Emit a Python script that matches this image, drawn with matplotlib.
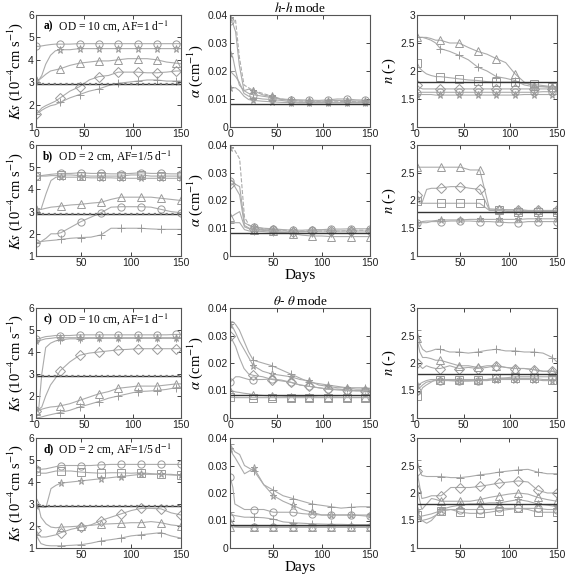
import matplotlib
matplotlib.use("Agg")
import matplotlib.pyplot as plt

plt.rcParams['mathtext.fontset'] = 'stix'
plt.rcParams['font.family'] = ['Liberation Sans', 'DejaVu Sans']

# ---------------- data ----------------
days_a = [0, 3, 6, 10, 15, 20, 25, 35, 45, 55, 65, 75, 85, 95, 105, 115, 125, 135, 145, 150]
days_b = [5, 8, 10, 15, 20, 25, 30, 40, 50, 60, 70, 80, 90, 100, 110, 120, 130, 140, 150]

# row 1 : h-h mode, OD = 10 cm
ks1_o = [4.6,4.6,4.62,4.65,4.68,4.7,4.7,4.7,4.72,4.72,4.72,4.72,4.72,4.72,4.72,4.72,4.72,4.72,4.72,4.72]
ks1_s = [3.1,3.1,3.3,3.8,4.2,4.4,4.45,4.45,4.5,4.5,4.5,4.5,4.5,4.5,4.5,4.5,4.5,4.5,4.5,4.5]
ks1_t = [3.1,3.1,3.2,3.35,3.5,3.55,3.6,3.75,3.85,3.9,3.95,3.95,4.0,4.05,4.05,4.05,4.0,3.9,3.85,3.82]
ks1_d = [1.6,1.7,1.85,1.95,2.05,2.15,2.3,2.6,2.8,3.1,3.25,3.3,3.45,3.45,3.45,3.42,3.42,3.45,3.5,3.5]
ks1_p = [1.6,1.65,1.75,1.85,1.95,2.0,2.1,2.3,2.45,2.6,2.7,2.85,2.95,3.0,3.05,3.1,3.1,3.05,3.05,3.05]

al1_s = [0.039,0.039,0.038,0.025,0.015,0.014,0.013,0.012,0.011,0.01,0.0095,0.0093,0.0092,0.009,0.009,0.009,0.0092,0.009,0.009,0.009]
al1_o = [0.038,0.037,0.034,0.022,0.013,0.012,0.0115,0.011,0.0105,0.01,0.0098,0.0097,0.0096,0.0095,0.0097,0.01,0.01,0.0097,0.0096,0.0096]
al1_s2 = [0.026,0.025,0.02,0.015,0.013,0.0135,0.013,0.0115,0.0108,0.0098,0.0095,0.0093,0.0093,0.0092,0.0093,0.0095,0.0094,0.0093,0.0093,0.0093]
al1_p = [0.02,0.019,0.018,0.016,0.012,0.011,0.0105,0.01,0.0098,0.0095,0.009,0.0088,0.0088,0.0088,0.0088,0.0088,0.0088,0.0088,0.0088,0.0088]
al1_s3 = [0.014,0.014,0.014,0.013,0.011,0.0098,0.0095,0.0092,0.009,0.0088,0.0087,0.0086,0.0086,0.0086,0.0086,0.0086,0.0086,0.0086,0.0086,0.0086]

n1_t = [2.6,2.6,2.6,2.6,2.58,2.55,2.55,2.5,2.5,2.42,2.35,2.3,2.22,2.15,1.95,1.8,1.73,1.72,1.72,1.72]
n1_p = [2.6,2.6,2.6,2.58,2.55,2.5,2.4,2.35,2.28,2.2,2.07,2.0,1.9,1.87,1.83,1.75,1.72,1.72,1.7,1.7]
n1_q = [2.15,2.05,2.0,1.95,1.92,1.9,1.9,1.88,1.86,1.84,1.83,1.81,1.8,1.8,1.8,1.78,1.76,1.74,1.72,1.72]
n1_o = [1.6,1.62,1.62,1.62,1.62,1.62,1.62,1.62,1.62,1.62,1.62,1.62,1.62,1.62,1.62,1.62,1.62,1.63,1.63,1.63]
n1_s = [1.58,1.58,1.58,1.58,1.58,1.57,1.57,1.57,1.57,1.57,1.57,1.57,1.57,1.57,1.57,1.58,1.58,1.58,1.58,1.58]
n1_d = [1.75,1.7,1.68,1.68,1.68,1.68,1.68,1.68,1.68,1.68,1.68,1.68,1.68,1.68,1.68,1.68,1.68,1.68,1.68,1.68]

# row 2 : h-h mode, OD = 2 cm
ks2_o = [4.6,4.6,4.62,4.65,4.68,4.7,4.72,4.72,4.75,4.72,4.72,4.7,4.7,4.72,4.75,4.72,4.72,4.7,4.7]
ks2_q = [4.6,4.6,4.6,4.6,4.62,4.62,4.65,4.65,4.62,4.6,4.6,4.6,4.6,4.65,4.65,4.6,4.6,4.6,4.6]
ks2_s = [3.1,3.1,3.1,3.8,4.4,4.55,4.55,4.55,4.55,4.52,4.52,4.52,4.5,4.5,4.5,4.5,4.5,4.5,4.5]
ks2_t = [3.1,3.1,3.1,3.15,3.2,3.22,3.25,3.3,3.33,3.38,3.42,3.55,3.65,3.65,3.65,3.65,3.6,3.55,3.5]
ks2_d = [1.6,1.62,1.65,1.8,2.0,2.0,2.05,2.3,2.55,2.75,2.95,3.2,3.22,3.22,3.22,3.2,3.1,3.0,2.95]
ks2_p = [1.6,1.62,1.65,1.68,1.7,1.72,1.75,1.8,1.83,1.85,1.95,2.25,2.25,2.25,2.25,2.22,2.2,2.2,2.2]

al2_s = [0.039,0.039,0.038,0.035,0.014,0.011,0.0105,0.0098,0.0095,0.0093,0.0092,0.009,0.009,0.009,0.009,0.009,0.0092,0.0093,0.0093]
al2_o = [0.027,0.027,0.026,0.025,0.012,0.011,0.0105,0.01,0.0098,0.0095,0.0093,0.0093,0.0095,0.0095,0.0097,0.0097,0.0098,0.0098,0.0098]
al2_d = [0.026,0.026,0.025,0.022,0.011,0.01,0.0098,0.0095,0.0092,0.009,0.0088,0.0088,0.009,0.009,0.009,0.009,0.009,0.009,0.009]
al2_t = [0.014,0.0145,0.015,0.016,0.0105,0.0098,0.0095,0.0092,0.009,0.0085,0.008,0.0075,0.0072,0.0072,0.007,0.007,0.007,0.007,0.007]
al2_p = [0.012,0.012,0.012,0.012,0.0095,0.009,0.009,0.0088,0.0085,0.0085,0.0082,0.0082,0.0082,0.0082,0.0082,0.0082,0.0082,0.0082,0.0082]

n2_t = [2.6,2.6,2.6,2.6,2.6,2.6,2.6,2.6,2.6,2.55,2.55,1.85,1.84,1.83,1.83,1.82,1.82,1.82,1.82]
n2_d = [2.1,2.0,1.95,2.2,2.22,2.22,2.23,2.25,2.25,2.22,2.2,1.83,1.83,1.83,1.83,1.82,1.82,1.82,1.82]
n2_q = [2.0,1.95,1.95,1.95,1.95,1.95,1.95,1.95,1.95,1.95,1.95,1.82,1.82,1.8,1.8,1.8,1.8,1.8,1.8]
n2_o = [1.6,1.6,1.6,1.6,1.62,1.62,1.62,1.63,1.63,1.63,1.62,1.62,1.61,1.6,1.6,1.62,1.62,1.62,1.62]
n2_s = [1.6,1.6,1.62,1.63,1.63,1.64,1.65,1.65,1.65,1.66,1.66,1.66,1.66,1.66,1.66,1.67,1.67,1.67,1.67]

# row 3 : theta-theta mode, OD = 10 cm
ks3_o = [4.6,4.6,4.65,4.7,4.72,4.75,4.75,4.75,4.78,4.78,4.78,4.78,4.78,4.78,4.78,4.78,4.78,4.78,4.8,4.8]
ks3_s = [4.5,4.5,4.55,4.6,4.62,4.65,4.65,4.65,4.65,4.65,4.65,4.65,4.65,4.65,4.65,4.65,4.65,4.65,4.65,4.65]
ks3_p = [1.2,1.5,3.0,4.2,4.4,4.5,4.55,4.6,4.6,4.62,4.62,4.62,4.62,4.62,4.62,4.62,4.62,4.62,4.62,4.62]
ks3_d = [1.3,1.4,1.5,2.0,2.5,2.8,3.15,3.55,3.85,3.95,4.0,4.05,4.1,4.12,4.15,4.15,4.15,4.15,4.15,4.15]
ks3_t = [1.3,1.35,1.4,1.45,1.5,1.52,1.55,1.65,1.8,1.95,2.1,2.2,2.35,2.4,2.45,2.45,2.45,2.5,2.55,2.55]
ks3_p2 = [1.0,1.02,1.05,1.1,1.15,1.2,1.25,1.35,1.5,1.62,1.75,1.9,2.0,2.1,2.2,2.22,2.25,2.3,2.38,2.4]

al3_p = [0.035,0.035,0.034,0.032,0.028,0.024,0.021,0.02,0.019,0.0175,0.016,0.0145,0.013,0.0125,0.012,0.0115,0.011,0.011,0.011,0.0108]
al3_s = [0.034,0.033,0.031,0.028,0.025,0.022,0.019,0.017,0.016,0.0155,0.015,0.014,0.0135,0.012,0.0115,0.011,0.011,0.0105,0.0105,0.0105]
al3_d = [0.03,0.028,0.026,0.022,0.018,0.016,0.0155,0.015,0.014,0.0135,0.013,0.012,0.0115,0.011,0.0105,0.0105,0.0102,0.01,0.01,0.01]
al3_o = [0.013,0.014,0.015,0.015,0.0145,0.014,0.014,0.014,0.0142,0.0138,0.013,0.012,0.0115,0.011,0.0105,0.0102,0.01,0.0098,0.0098,0.0098]
al3_t = [0.01,0.0098,0.0095,0.0093,0.009,0.0088,0.0085,0.0082,0.008,0.008,0.0078,0.0078,0.0078,0.0076,0.0076,0.0076,0.0075,0.0075,0.0075,0.0075]
al3_q = [0.0075,0.0075,0.0074,0.0074,0.0074,0.0074,0.0074,0.0074,0.0074,0.0074,0.0074,0.0074,0.0074,0.0074,0.0074,0.0074,0.0074,0.0074,0.0074,0.0074]

n3_p = [2.6,2.35,2.25,2.2,2.22,2.25,2.25,2.2,2.2,2.18,2.2,2.23,2.25,2.22,2.22,2.2,2.2,2.18,2.1,2.02]
n3_t = [2.45,2.2,2.1,2.1,2.08,2.05,2.05,2.0,1.95,1.95,1.92,1.95,1.95,1.92,1.9,1.9,1.88,1.85,1.85,1.85]
n3_d = [2.0,1.95,1.9,1.95,1.92,1.9,1.9,1.95,1.9,1.92,1.9,1.92,1.95,1.92,1.9,1.9,1.88,1.85,1.85,1.82]
n3_o = [1.5,1.55,1.6,1.65,1.67,1.68,1.68,1.68,1.67,1.67,1.68,1.7,1.72,1.73,1.75,1.75,1.75,1.75,1.75,1.75]
n3_q = [1.4,1.45,1.55,1.6,1.65,1.7,1.7,1.7,1.7,1.7,1.7,1.7,1.72,1.72,1.72,1.72,1.72,1.7,1.7,1.7]
n3_s = [1.6,1.62,1.65,1.68,1.7,1.7,1.7,1.68,1.68,1.68,1.68,1.68,1.7,1.7,1.7,1.7,1.7,1.68,1.68,1.68]

# row 4 : theta-theta mode, OD = 2 cm
ks4_o = [4.6,4.6,4.58,4.6,4.65,4.7,4.75,4.75,4.75,4.75,4.78,4.8,4.8,4.8,4.8,4.8,4.8,4.8,4.8]
ks4_q = [4.5,4.45,4.4,4.4,4.45,4.5,4.5,4.5,4.45,4.42,4.4,4.42,4.42,4.4,4.42,4.38,4.35,4.32,4.3]
ks4_s = [2.9,2.88,2.87,2.85,3.7,3.85,3.95,4.0,4.05,4.1,4.15,4.2,4.25,4.3,4.35,4.35,4.35,4.35,4.3]
ks4_d = [1.8,1.6,1.5,1.5,1.55,1.6,1.7,1.85,1.95,2.05,2.25,2.4,2.55,2.7,2.8,2.8,2.78,2.6,2.5]
ks4_t = [3.1,2.8,2.4,2.1,1.95,1.92,1.95,1.97,2.0,2.03,2.08,2.1,2.12,2.15,2.15,2.2,2.15,2.05,2.0]
ks4_p = [1.6,1.35,1.2,1.12,1.1,1.1,1.1,1.12,1.15,1.22,1.32,1.38,1.45,1.55,1.6,1.65,1.7,1.55,1.45]

al4_p = [0.038,0.036,0.035,0.034,0.03,0.029,0.028,0.023,0.021,0.019,0.018,0.017,0.016,0.0155,0.015,0.0145,0.0148,0.015,0.015]
al4_s = [0.036,0.034,0.033,0.03,0.027,0.028,0.029,0.023,0.019,0.017,0.0155,0.014,0.013,0.012,0.012,0.012,0.012,0.012,0.012]
al4_o = [0.026,0.022,0.016,0.015,0.014,0.014,0.014,0.014,0.013,0.013,0.013,0.0125,0.0122,0.012,0.012,0.012,0.012,0.0118,0.0115]
al4_p2 = [0.013,0.012,0.0118,0.0115,0.0112,0.0112,0.0112,0.011,0.0105,0.0095,0.0092,0.009,0.0088,0.0087,0.0086,0.0086,0.0085,0.0085,0.0085]
al4_o2 = [0.011,0.009,0.0078,0.0077,0.0077,0.0077,0.0077,0.0077,0.0077,0.0077,0.0077,0.0077,0.0077,0.0077,0.0077,0.0077,0.0077,0.0077,0.0077]
al4_t = [0.0078,0.0076,0.0076,0.0075,0.0075,0.0075,0.0075,0.0075,0.0075,0.0075,0.0075,0.0075,0.0075,0.0075,0.0075,0.0075,0.0075,0.0075,0.0075]

n4_p = [2.6,2.4,2.32,2.3,2.3,2.3,2.3,2.28,2.28,2.3,2.33,2.35,2.38,2.4,2.42,2.43,2.38,2.35,2.35]
n4_d = [2.4,2.1,1.9,1.92,1.95,1.95,1.95,2.1,2.1,2.1,2.12,2.15,2.18,2.2,2.22,2.2,2.05,2.0,2.0]
n4_t = [2.1,1.85,1.7,1.8,1.9,1.88,1.85,1.85,1.85,1.85,1.88,1.92,1.95,1.98,2.0,1.98,1.92,1.88,1.85]
n4_s = [1.7,1.55,1.5,1.45,1.5,1.6,1.7,1.75,1.78,1.8,1.8,1.82,1.82,1.85,1.88,1.85,1.8,1.78,1.75]
n4_q = [1.6,1.52,1.5,1.52,1.55,1.6,1.68,1.7,1.65,1.63,1.63,1.65,1.68,1.7,1.72,1.7,1.65,1.65,1.65]
n4_o = [1.55,1.55,1.58,1.6,1.62,1.65,1.68,1.7,1.7,1.7,1.7,1.7,1.72,1.72,1.72,1.72,1.72,1.7,1.7]

ref_ks, ref_al, ref_n = 2.9, 0.0083, 1.8

panel_text = ["a) OD = 10 cm, AF=1 d$^{-1}$", "b) OD = 2 cm, AF=1/5 d$^{-1}$",
              "c) OD = 10 cm, AF=1 d$^{-1}$", "d) OD = 2 cm, AF=1/5 d$^{-1}$"]

# ---------------- layout ----------------
W, H = 566, 579
fig = plt.figure(figsize=(W / 100, H / 100), dpi=100)
cols = [(36, 181), (230, 370), (417, 557)]
rows = [(15, 127), (145, 256), (308, 418), (438, 548)]

LC = '#ababab'
MC = '#9a9a9a'
SERIF = ['Liberation Serif', 'DejaVu Serif']


def make_ax(r, c):
    x0, x1 = cols[c]
    y0, y1 = rows[r]
    return fig.add_axes([x0 / W, 1 - y1 / H, (x1 - x0) / W, (y1 - y0) / H])


def series(ax, x, y, m, ls='-', every=None):
    if every is None:
        every = [0] + list(range(6, len(x), 2))
    ax.plot(x, y, color=LC, lw=0.8, ls=ls, marker=m, markevery=every,
            markersize=5.2, markerfacecolor='none', markeredgecolor=MC, markeredgewidth=0.7)


row_data = [
    (days_a, [(ks1_o, 'o'), (ks1_s, '*'), (ks1_t, '^'), (ks1_d, 'D'), (ks1_p, '+')],
     [(al1_s, '*', '--'), (al1_o, 'o', '-'), (al1_s2, '*', '-'), (al1_p, '+', '-'), (al1_s3, '*', '-')],
     [(n1_t, '^'), (n1_p, '+'), (n1_q, 's'), (n1_o, 'o'), (n1_s, '*'), (n1_d, 'D')]),
    (days_b, [(ks2_o, 'o'), (ks2_q, 's'), (ks2_s, '*'), (ks2_t, '^'), (ks2_d, 'o'), (ks2_p, '+')],
     [(al2_s, '*', '--'), (al2_o, 'o', '-'), (al2_d, 'D', '-'), (al2_t, '^', '-'), (al2_p, '+', '-')],
     [(n2_t, '^'), (n2_d, 'D'), (n2_q, 's'), (n2_o, 'o'), (n2_s, '*')]),
    (days_a, [(ks3_o, 'o'), (ks3_s, '*'), (ks3_p, '+'), (ks3_d, 'D'), (ks3_t, '^'), (ks3_p2, '+')],
     [(al3_p, '+', '-'), (al3_s, '*', '-'), (al3_d, 'D', '-'), (al3_o, 'o', '-'), (al3_t, '^', '-'), (al3_q, 's', '-')],
     [(n3_p, '+'), (n3_t, '^'), (n3_d, 'D'), (n3_o, 'o'), (n3_q, 's'), (n3_s, '*')]),
    (days_b, [(ks4_o, 'o'), (ks4_q, 's'), (ks4_s, '*'), (ks4_d, 'D'), (ks4_t, '^'), (ks4_p, '+')],
     [(al4_p, '+', '-'), (al4_s, '*', '-'), (al4_o, 'o', '-'), (al4_p2, '+', '-'), (al4_o2, 'o', '-'), (al4_t, '^', '-')],
     [(n4_p, '+'), (n4_d, 'D'), (n4_t, '^'), (n4_s, '*'), (n4_q, 's'), (n4_o, 'o')]),
]


def style(ax, xlim, ylim, yticks, ylabels):
    ax.set_xlim(*xlim)
    ax.set_ylim(*ylim)
    ax.set_xticks([t for t in [0, 50, 100, 150] if t >= xlim[0]])
    ax.set_yticks(yticks)
    ax.set_yticklabels(ylabels)
    ax.tick_params(direction='in', length=3, width=0.6, labelsize=7.5, pad=1.5,
                   top=True, right=True, colors='#222222')
    for s in ax.spines.values():
        s.set_linewidth(0.8)
        s.set_color('#555555')


for r, (days, ks, al, nn) in enumerate(row_data):
    xlim = (0, 150) if days[0] == 0 else (5, 150)
    # Ks
    ax = make_ax(r, 0)
    for y, m in ks:
        series(ax, days, y, m)
    ax.axhline(ref_ks, color='#333333', lw=1.0)
    ax.axhline(ref_ks, color='#777777', lw=1.6, ls=':')
    style(ax, xlim, (1, 6), [1, 2, 3, 4, 5, 6], ['1', '2', '3', '4', '5', '6'])
    ax.set_ylabel(r'$Ks$ (10$^{-4}$cm s$^{-1}$)', family=SERIF, fontsize=10.5, labelpad=2)
    lab = panel_text[r]
    ax.text(0.05, 0.9, lab[:2], transform=ax.transAxes, family=SERIF, fontsize=8.3,
            fontweight='bold', va='center', ha='left')
    ax.text(0.14, 0.9, lab[2:], transform=ax.transAxes, family=SERIF, fontsize=8.3,
            va='center', ha='left')
    # alpha
    ax = make_ax(r, 1)
    for y, m, ls in al:
        series(ax, days, y, m, ls=ls)
    ax.axhline(ref_al, color='#333333', lw=1.0)
    style(ax, xlim, (0, 0.04), [0, 0.01, 0.02, 0.03, 0.04], ['0', '0.01', '0.02', '0.03', '0.04'])
    if r < 3:
        ax.set_ylabel(r'$\alpha$ (cm$^{-1}$)', family=SERIF, fontsize=10.5, labelpad=2)
    if r in (1, 3):
        ax.set_xlabel('Days', family=SERIF, fontsize=11, labelpad=1)
    if r == 0:
        ax.set_title(r'$h$-$h$ mode', family=SERIF, fontsize=9.5, pad=2)
    if r == 2:
        ax.set_title(r'$\theta$- $\theta$ mode', family=SERIF, fontsize=9.5, pad=2)
    # n
    ax = make_ax(r, 2)
    for y, m in nn:
        series(ax, days, y, m)
    ax.axhline(ref_n, color='#333333', lw=1.0)
    style(ax, xlim, (1, 3), [1, 1.5, 2, 2.5, 3], ['1', '1.5', '2', '2.5', '3'])
    if r < 3:
        ax.set_ylabel(r'$n$ (-)', family=SERIF, fontsize=10.5, labelpad=2)

fig.savefig('out.png', dpi=100)
